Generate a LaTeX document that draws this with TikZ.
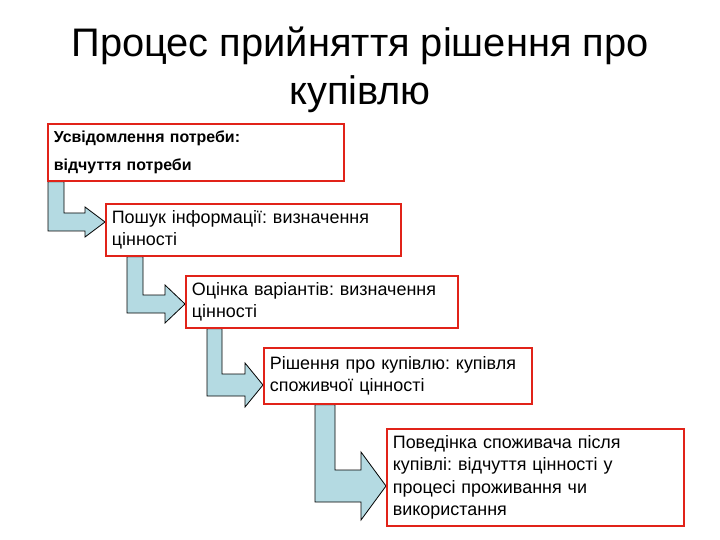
\documentclass[tikz,border=0pt]{standalone}
\usepackage{fontspec}
\setmainfont{Liberation Sans}
\frenchspacing
\usetikzlibrary{calc,backgrounds}
\definecolor{flowblue}{RGB}{180,218,226}
\definecolor{boxred}{RGB}{225,35,25}
\tikzset{
  stage/.style={draw=boxred, line width=1.7bp, fill=white, anchor=north west,
    inner xsep=6bp, inner ysep=0pt, align=left},
  flow/.style={draw=black, line width=0.8bp, fill=flowblue, line join=miter}
}
\begin{document}
\begin{tikzpicture}[x=1bp,y=-1bp]
  \useasboundingbox (0,0) rectangle (720,540);
  \node[font=\fontsize{40}{48}\selectfont, align=center] (title) at (360,70)
    {Процес прийняття рішення про\\купівлю};
  % stages
  \node[stage, text width=284bp, minimum height=57bp,
    font=\fontsize{16}{28}\selectfont\bfseries] (s1) at (47,123)
    {Усвідомлення потреби:\\відчуття потреби};
  \node[stage, text width=283bp, minimum height=52bp,
    font=\fontsize{18}{22}\selectfont] (s2) at (105,203)
    {Пошук інформації: визначення\\цінності};
  \node[stage, text width=260bp, minimum height=52bp,
    font=\fontsize{18}{22}\selectfont] (s3) at (185,275)
    {Оцінка варіантів: визначення\\цінності};
  \node[stage, text width=256bp, minimum height=56bp,
    font=\fontsize{18}{22}\selectfont] (s4) at (263,347)
    {Рішення про купівлю: купівля\\споживчої цінності};
  \node[stage, text width=285bp, minimum height=97bp,
    font=\fontsize{18}{22.5}\selectfont] (s5) at (386,428)
    {Поведінка споживача після\\купівлі: відчуття цінності у\\процесі проживання чи\\використання};
  % bent arrows
  \coordinate (t2) at ($(s2.north west)+(0,19)$);
  \coordinate (t3) at ($(s3.north west)+(0,29)$);
  \coordinate (t4) at ($(s4.north west)+(0,38)$);
  \coordinate (t5) at ($(s5.north west)+(0,58)$);
  \begin{scope}[on background layer]
    \draw[flow] ($(s1.south west)+(1,0)$) coordinate (a1) -- ++(16,0) |- ($(t2)+(-20,-9)$) -- ++(0,-6) -- (t2) -- ++(-20,15) -- ++(0,-6) -| ($(a1)+(0,5)$) -- cycle;
    \draw[flow] ($(s2.south west)+(22,0)$) coordinate (a2) -- ++(16,0) |- ($(t3)+(-20,-9)$) -- ++(0,-10) -- (t3) -- ++(-20,19) -- ++(0,-10) -| ($(a2)+(0,5)$) -- cycle;
    \draw[flow] ($(s3.south west)+(22,0)$) coordinate (a3) -- ++(15,0) |- ($(t4)+(-18,-11)$) -- ++(0,-11) -- (t4) -- ++(-18,22) -- ++(0,-11) -| ($(a3)+(0,5)$) -- cycle;
    \draw[flow] ($(s4.south west)+(52,0)$) coordinate (a4) -- ++(20,0) |- ($(t5)+(-25,-16)$) -- ++(0,-18) -- (t5) -- ++(-25,34) -- ++(0,-18) -| ($(a4)+(0,5)$) -- cycle;
  \end{scope}
\end{tikzpicture}
\end{document}
